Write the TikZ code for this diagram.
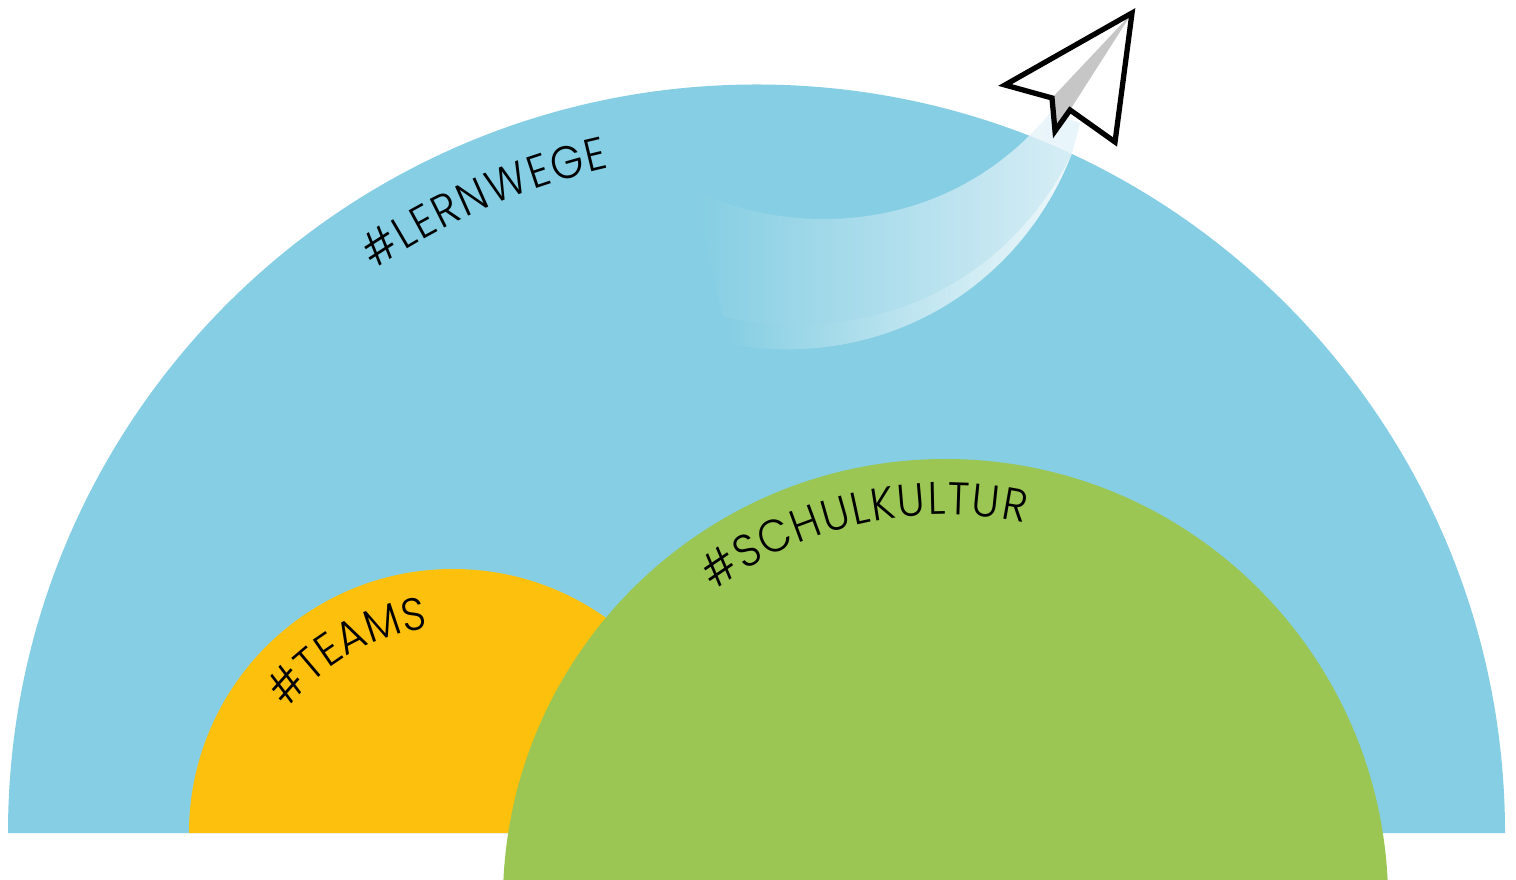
\documentclass[tikz,border=0pt]{standalone}
\usepackage{fontspec}
\usepackage{xcolor}
\usetikzlibrary{decorations.text,fadings}
\newfontfamily\tagfont[FakeStretch=0.92]{Poppins Light}
\newcommand{\hashsym}{\char35 }
\definecolor{skyblue}{HTML}{85CEE3}
\definecolor{teamyellow}{HTML}{FDC10D}
\definecolor{cultgreen}{HTML}{9BC653}
\definecolor{trailblue}{HTML}{E4F3F9}
\definecolor{foldgrey}{HTML}{C6C6C6}
\tikzfading[name=trailfade,left color=transparent!100,middle color=transparent!68,right color=transparent!12]
\tikzfading[name=edgefade,left color=transparent!100,middle color=transparent!76,right color=transparent!13]
\tikzset{
    tagpath/.style={decorate,decoration={text along path,text align={fit to path},
        text={|\fontsize{13}{14}\tagfont|{\hashsym}#1}}},
    trailpart/.style={fill=trailblue,path fading=trailfade},
    edgepart/.style={fill=white,path fading=edgefade}
}

\begin{document}
\begin{tikzpicture}[x=0.01cm,y=0.01cm]
    \clip (0,0) rectangle (1516,879);
    % half circles
    \fill [skyblue] (8,46) arc [start angle=180,end angle=0,radius=748.5] -- cycle;
    \fill [teamyellow] (189,46) arc [start angle=180,end angle=0,radius=264] -- cycle;
    % trail of the plane
    \fill [trailpart] (693,689) .. controls (795,640) and (950,645) .. (1050,766)
        -- (1080,756) -- (1072,726) .. controls (1010,600) and (880,530) .. (723,562) -- cycle;
    \fill [edgepart] (723,562) .. controls (880,530) and (1010,600) .. (1072,726)
        .. controls (1020,590) and (880,505) .. (723,536) -- cycle;
    % plane
    \fill [white] (1132,866) -- (1005,794) -- (1052,781) -- (1055,748) -- (1070,769) -- (1115,737) -- cycle;
    \fill [foldgrey] (1132,866) -- (1052,781) -- (1055,748) -- (1070,769) -- cycle;
    \draw [line width=1.5pt,miter limit=10] (1132,866) -- (1005,794) -- (1052,781) -- (1055,748) -- (1070,769) -- (1115,737) -- cycle;
    % green on top
    \fill [cultgreen] (945.5,-22.6) circle (442.6);
    % labels
    \path [tagpath={LERNWEGE}] (757,46) ++(124.2:681) arc [start angle=124.2,end angle=102.5,radius=681];
    \path [tagpath={TEAMS}] (453,46) ++(143:206) arc [start angle=143,end angle=97,radius=206];
    \path [tagpath={SCHULKULTUR}] (945.5,-22.6) ++(126.6:387) arc [start angle=126.6,end angle=78.2,radius=387];
\end{tikzpicture}
\end{document}
